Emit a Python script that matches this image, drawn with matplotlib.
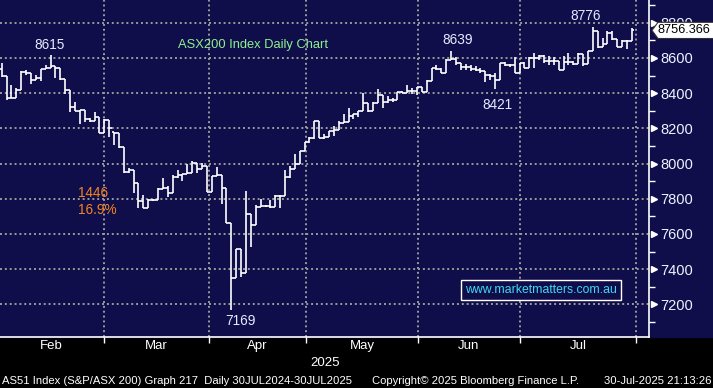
import numpy as np
import matplotlib
matplotlib.use('Agg')
import matplotlib.pyplot as plt
from matplotlib import font_manager
from matplotlib.patches import Rectangle, Polygon
from matplotlib.transforms import blended_transform_factory

# datos OHLC diarios (aproximados)
opens = [8538, 8495, 8373, 8373, 8418, 8520, 8515, 8475, 8486, 8538,
         8545, 8555, 8543, 8481, 8418, 8322, 8299, 8305, 8254, 8242,
         8265, 8174, 8248, 8180, 8174, 8094, 7953, 7964, 7890, 7788,
         7748, 7793, 7793, 7855, 7862, 7833, 7924, 7935, 7941, 7947,
         8004, 7970, 7987, 7839, 7930, 7935, 7862, 7663, 7350, 7515,
         7379, 7714, 7651, 7754, 7760, 7760, 7754, 7816, 7816, 7924,
         7970, 7998, 8072, 8123, 8145, 8242, 8145, 8151, 8185, 8191,
         8231, 8236, 8270, 8282, 8299, 8344, 8299, 8344, 8390, 8350,
         8361, 8361, 8407, 8401, 8412, 8412, 8435, 8407, 8470, 8543,
         8538, 8515, 8589, 8594, 8572, 8549, 8549, 8538, 8532, 8526,
         8503, 8498, 8475, 8572, 8560, 8560, 8515, 8572, 8543, 8600,
         8600, 8611, 8583, 8583, 8583, 8532, 8577, 8577, 8566, 8624,
         8566, 8640, 8755, 8664, 8680, 8742, 8708, 8662, 8697, 8697]
highs = [8572, 8495, 8447, 8430, 8526, 8532, 8515, 8503, 8538, 8560,
         8615, 8555, 8543, 8481, 8418, 8350, 8305, 8305, 8260, 8293,
         8265, 8254, 8248, 8180, 8174, 8094, 7975, 7964, 7890, 7822,
         7800, 7800, 7860, 7920, 7870, 7935, 7964, 7941, 7998, 8015,
         8004, 8004, 7987, 7930, 7981, 7935, 7862, 7663, 7515, 7515,
         7845, 7714, 7765, 7799, 7765, 7793, 7822, 7822, 7964, 7987,
         8055, 8072, 8123, 8151, 8242, 8242, 8168, 8185, 8213, 8242,
         8282, 8316, 8282, 8299, 8401, 8344, 8350, 8424, 8390, 8384,
         8373, 8407, 8410, 8447, 8430, 8435, 8435, 8475, 8543, 8560,
         8543, 8594, 8639, 8605, 8572, 8566, 8560, 8555, 8543, 8526,
         8509, 8515, 8572, 8577, 8566, 8605, 8572, 8577, 8605, 8628,
         8617, 8617, 8611, 8605, 8583, 8611, 8628, 8583, 8630, 8624,
         8640, 8776, 8755, 8714, 8753, 8753, 8708, 8702, 8702, 8770]
lows = [8492, 8361, 8370, 8370, 8418, 8503, 8452, 8475, 8470, 8538,
        8543, 8486, 8475, 8396, 8293, 8299, 8225, 8236, 8236, 8242,
        8174, 8174, 8150, 8106, 8088, 7947, 7947, 7833, 7748, 7748,
        7748, 7785, 7793, 7855, 7810, 7833, 7918, 7901, 7941, 7947,
        7947, 7970, 7839, 7839, 7930, 7770, 7663, 7169, 7350, 7356,
        7379, 7526, 7651, 7754, 7755, 7748, 7754, 7748, 7816, 7918,
        7970, 7998, 8072, 8117, 8140, 8145, 8140, 8151, 8157, 8191,
        8231, 8236, 8254, 8265, 8299, 8293, 8299, 8344, 8316, 8344,
        8350, 8361, 8400, 8401, 8396, 8390, 8407, 8407, 8470, 8532,
        8515, 8515, 8589, 8560, 8532, 8532, 8526, 8526, 8515, 8464,
        8475, 8421, 8475, 8555, 8549, 8515, 8515, 8543, 8543, 8543,
        8589, 8572, 8560, 8560, 8532, 8532, 8560, 8560, 8566, 8555,
        8566, 8640, 8655, 8662, 8680, 8700, 8662, 8662, 8651, 8697]
closes = [8495, 8373, 8373, 8418, 8520, 8515, 8475, 8486, 8538, 8545,
          8555, 8543, 8481, 8418, 8322, 8299, 8305, 8254, 8242, 8265,
          8174, 8248, 8202, 8174, 8094, 7953, 7964, 7890, 7788, 7748,
          7793, 7793, 7855, 7862, 7833, 7924, 7935, 7941, 7947, 8004,
          7970, 7987, 7839, 7930, 7935, 7862, 7663, 7350, 7515, 7379,
          7714, 7651, 7754, 7760, 7760, 7754, 7816, 7816, 7924, 7970,
          7998, 8072, 8123, 8145, 8242, 8145, 8151, 8185, 8191, 8231,
          8236, 8270, 8282, 8299, 8344, 8299, 8344, 8390, 8350, 8361,
          8361, 8407, 8401, 8412, 8412, 8435, 8407, 8470, 8543, 8538,
          8515, 8589, 8594, 8572, 8549, 8549, 8538, 8532, 8526, 8503,
          8498, 8475, 8572, 8560, 8560, 8515, 8572, 8543, 8600, 8600,
          8611, 8583, 8583, 8583, 8532, 8577, 8577, 8566, 8624, 8566,
          8640, 8755, 8664, 8680, 8742, 8708, 8662, 8697, 8697, 8756]

month_names = ['Feb', 'Mar', 'Apr', 'May', 'Jun', 'Jul']
month_edges = [-0.5, 20.9, 42.4, 62.3, 85.2, 106.1, 129.8]
y_ticks = [7200, 7400, 7600, 7800, 8000, 8200, 8400, 8600, 8800]
last_price = 8756.366

# fuente estrecha si existe
nombres = {f.name for f in font_manager.fontManager.ttflist}
fuente = 'Liberation Sans Narrow' if 'Liberation Sans Narrow' in nombres else 'Liberation Sans'
plt.rcParams['font.family'] = fuente

navy = '#0f0e4a'
W, H = 713, 388
AX_W, AX_H = 649, 337

fig = plt.figure(figsize=(W / 100, H / 100), dpi=100, facecolor='black')
fig.add_artist(Rectangle((0, (H - AX_H) / H), 1, AX_H / H, transform=fig.transFigure,
                         color=navy, zorder=-1))
ax = fig.add_axes([0, (H - AX_H) / H, AX_W / W, AX_H / H])
ax.set_facecolor(navy)

x = np.arange(len(closes))
ax.vlines(x, lows, highs, color='white', lw=1.2, zorder=3)
ax.hlines(opens, x - 0.5, x, color='white', lw=1.2, zorder=3)
ax.hlines(closes, x, x + 0.5, color='white', lw=1.2, zorder=3)

ax.set_xlim(-0.35, 132.5)
ax.set_ylim(7015, 8929)

# ejes
for s in ['top', 'left']:
    ax.spines[s].set_visible(False)
for s in ['right', 'bottom']:
    ax.spines[s].set_color('white')
    ax.spines[s].set_linewidth(1.2)

ax.yaxis.tick_right()
ax.set_yticks(y_ticks)
ax.set_yticklabels([str(v) for v in y_ticks])
ax.set_yticks([v + 100 for v in y_ticks] + [7100], minor=True)
ax.tick_params(axis='y', which='major', length=0, pad=8, labelsize=10.5, labelcolor='#eef3ff')
ax.tick_params(axis='y', which='minor', length=4, width=1, color='white')

mids = [(month_edges[i] + month_edges[i + 1]) / 2 for i in range(len(month_names))]
ax.set_xticks(month_edges[1:])
ax.set_xticklabels([])
ax.set_xticks(mids, minor=True)
ax.set_xticklabels(month_names, minor=True)
ax.tick_params(axis='x', which='major', length=4, width=1, color='white', direction='out')
ax.tick_params(axis='x', which='minor', length=0, pad=2, labelsize=9.5, labelcolor='white')

ax.grid(True, which='major', color='#9a9a9a', lw=1.4, linestyle=(0, (1, 1.5)))
ax.set_axisbelow(True)

# triangulos del eje derecho
tr = blended_transform_factory(ax.transAxes, ax.transData)
ax.plot([1.008] * len(y_ticks), y_ticks, ls='none', marker='>', ms=5, color='white',
        transform=tr, clip_on=False, zorder=4)

# etiqueta del ultimo precio
px = 1 / AX_W
hh = 46
poly = Polygon([(1 + 3 * px, last_price), (1 + 9 * px, last_price + hh),
                (1 + 66 * px, last_price + hh), (1 + 66 * px, last_price - hh),
                (1 + 9 * px, last_price - hh)], closed=True, transform=tr,
               fc='white', ec='#333333', lw=0.8, clip_on=False, zorder=10)
ax.add_patch(poly)
ax.text(1 + 35 * px, last_price, f'{last_price:.3f}', transform=tr, ha='center', va='center',
        fontsize=9.2, color='black', clip_on=False, zorder=11)


def pos(xp, yp):
    return xp / AX_W, 1 - yp / AX_H


claro = '#e4ecff'
etiquetas = [('8615', 50, 45), ('8639', 458, 40), ('8776', 586, 16),
             ('8421', 497, 105), ('7169', 240, 321)]
for t, xp, yp in etiquetas:
    ax.text(*pos(xp, yp), t, transform=ax.transAxes, ha='center', va='center',
            fontsize=9.8, color=claro)

ax.text(*pos(253, 45), 'ASX200 Index Daily Chart', transform=ax.transAxes, ha='center',
        va='center', fontsize=9.3, color='#8ff08f')
ax.text(*pos(78, 193), '1446', transform=ax.transAxes, ha='left', va='center',
        fontsize=9.8, color='#f5841f')
ax.text(*pos(78, 210), '16.9%', transform=ax.transAxes, ha='left', va='center',
        fontsize=9.8, color='#f5841f')
ax.text(*pos(541, 290), 'www.marketmatters.com.au', transform=ax.transAxes, ha='center',
        va='center', fontsize=8.8, color='#3fd7f5',
        bbox=dict(boxstyle='square,pad=0.3', fc=navy, ec='white', lw=1))

# pie del grafico
fig.text(325 / W, 1 - 363 / H, '2025', ha='center', va='center', fontsize=9.5, color='white')
fig.text(2 / W, 1 - 381 / H, 'AS51 Index (S&P/ASX 200) Graph 217  Daily 30JUL2024-30JUL2025',
         ha='left', va='center', fontsize=8.1, color='white')
fig.text(372 / W, 1 - 381 / H, 'Copyright\u00a9 2025 Bloomberg Finance L.P.',
         ha='left', va='center', fontsize=8.1, color='white')
fig.text(711 / W, 1 - 381 / H, '30-Jul-2025 21:13:26', ha='right', va='center',
         fontsize=8.1, color='white')

fig.savefig('out.png', dpi=100, facecolor='black')
